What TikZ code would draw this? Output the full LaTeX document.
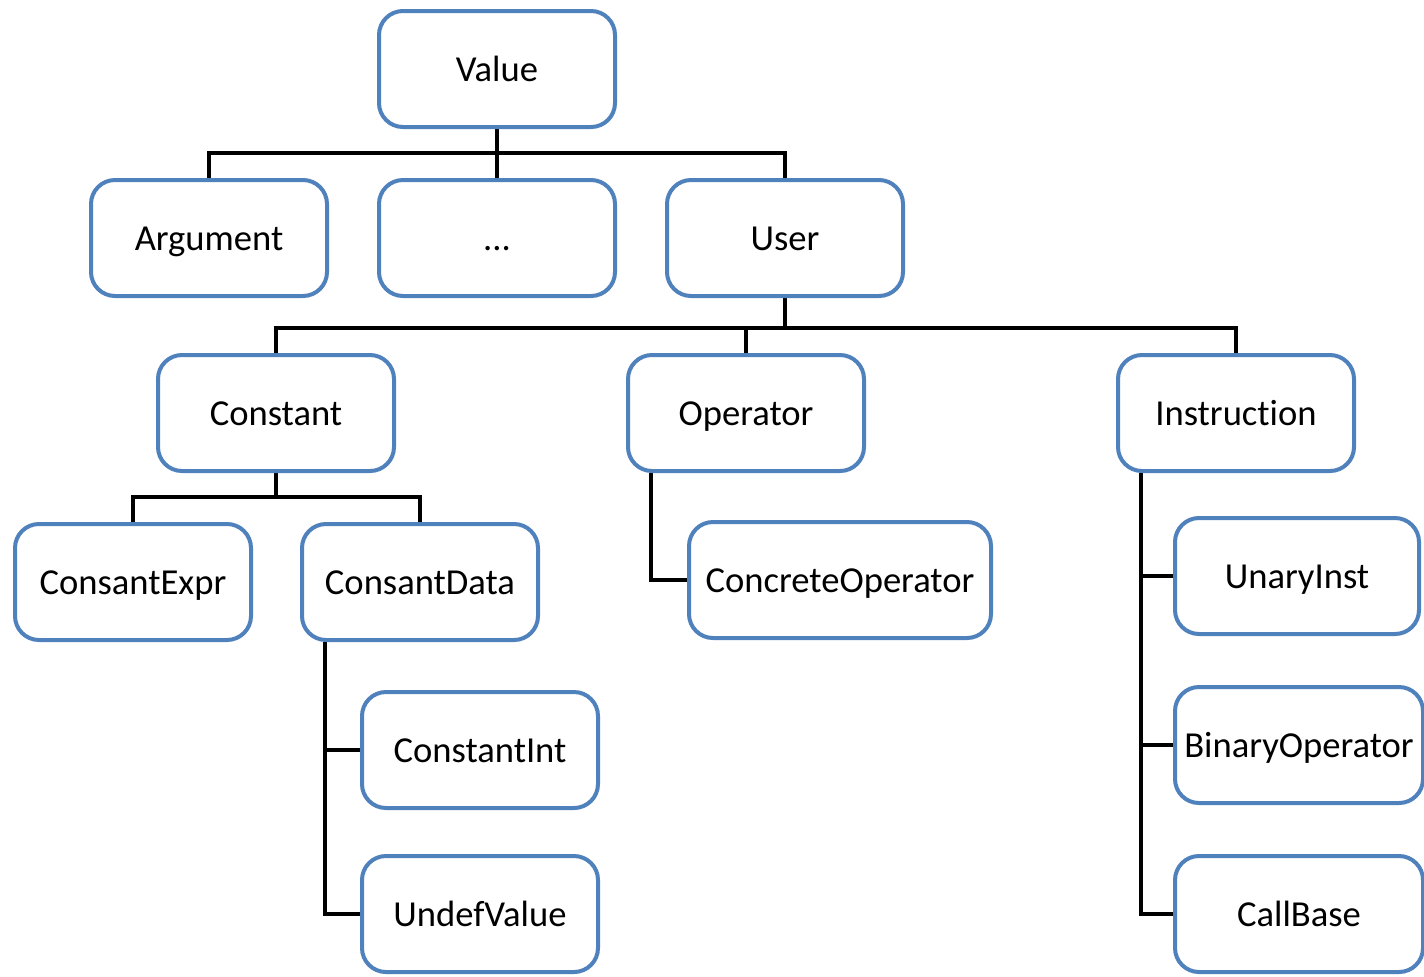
\documentclass[tikz,border=0pt]{standalone}
\usepackage{fontspec}
\setmainfont{Carlito}[Ligatures=NoCommon]
\usetikzlibrary{backgrounds}
\definecolor{boxblue}{HTML}{4F81BD}
\begin{document}
\begin{tikzpicture}[x=0.5pt,y=-0.5pt,
  cls/.style={draw=boxblue, line width=2pt, fill=white, rounded corners=12pt,
    minimum width=118pt, minimum height=58pt, inner sep=0pt,
    text height=13pt, text depth=1pt,
    font=\fontsize{18.3}{22}\selectfont},
  wide/.style={cls, minimum width=151pt},
  sub/.style={cls, minimum width=122pt},
  conn/.style={draw=black, line width=2.2pt}]
\useasboundingbox (0,0) rectangle (1424,976);
\clip (0,0) rectangle (1424,976);

% class boxes
\node[cls] (value) at (497,69) {Value};
\node[cls] (arg) at (209,238) {Argument};
\node[cls] (dots) at (497,238) {...};
\node[cls] (user) at (785,238) {User};
\node[cls] (constant) at (276,413) {Constant};
\node[cls] (operator) at (746,413) {Operator};
\node[cls] (instr) at (1236,413) {Instruction};
\node[cls] (cexpr) at (133,582) {ConsantExpr};
\node[cls] (cdata) at (420,582) {ConsantData};
\node[wide] (concop) at (840,580) {ConcreteOperator};
\node[cls] (cint) at (480,750) {ConstantInt};
\node[cls] (undef) at (480,914) {UndefValue};
\node[sub] (unary) at (1297,576) {UnaryInst};
\node[sub, minimum width=124pt] (binop) at (1299,745) {BinaryOperator};
\node[sub, minimum width=124pt] (callbase) at (1299,914) {CallBase};

% bus points of the hierarchy lines
\coordinate (b1) at (497,153);
\coordinate (b2) at (785,328);
\coordinate (b3) at (276,497);
\coordinate (t1) at (651,473);
\coordinate (t2) at (325,642);
\coordinate (t3) at (1141,473);

\begin{scope}[on background layer]
  % Value
  \draw[conn] (value.south) -- (b1);
  \draw[conn] (arg.north) |- (b1) -| (user.north);
  \draw[conn] (dots.north) -- (dots.north |- b1);
  % User
  \draw[conn] (user.south) -- (b2);
  \draw[conn] (constant.north) |- (b2) -| (instr.north);
  \draw[conn] (operator.north) -- (operator.north |- b2);
  % Constant
  \draw[conn] (constant.south) -- (b3);
  \draw[conn] (cexpr.north) |- (b3) -| (cdata.north);
  % Operator
  \draw[conn] (t1) |- (concop.west);
  % ConsantData
  \draw[conn] (t2) |- (undef.west);
  \draw[conn] (t2 |- cint.west) -- (cint.west);
  % Instruction
  \draw[conn] (t3) |- (callbase.west);
  \draw[conn] (t3 |- unary.west) -- (unary.west);
  \draw[conn] (t3 |- binop.west) -- (binop.west);
\end{scope}
\end{tikzpicture}
\end{document}
